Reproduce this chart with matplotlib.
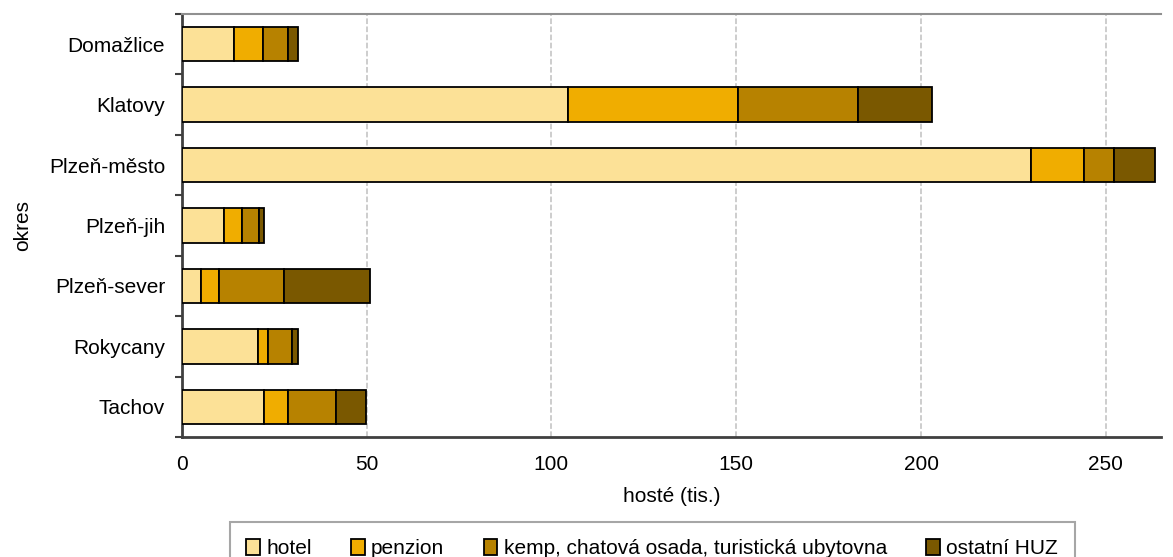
import numpy as np
import matplotlib.pyplot as plt
from matplotlib.ticker import FixedLocator

plt.rcParams['font.family'] = ['Liberation Sans', 'DejaVu Sans']

okresy = ['Domažlice', 'Klatovy', 'Plzeň-město', 'Plzeň-jih', 'Plzeň-sever', 'Rokycany', 'Tachov']
hotel    = [14.1, 104.4, 229.7, 11.4,  5.1, 20.6, 22.2]
penzion  = [ 7.8,  46.0,  14.3,  4.8,  4.9,  2.7,  6.5]
kemp     = [ 6.8,  32.5,   8.2,  4.6, 17.6,  6.5, 13.0]
ostatni  = [ 2.7,  20.0,  11.1,  1.4, 23.3,  1.6,  8.1]

series = [('hotel', hotel, '#FCE197'),
          ('penzion', penzion, '#F0AD00'),
          ('kemp, chatová osada, turistická ubytovna', kemp, '#B78200'),
          ('ostatní HUZ', ostatni, '#7A5800')]

fs = 15

fig = plt.figure(figsize=(11.73, 5.57), dpi=100)
ax = fig.add_axes([0.155, 0.2154, 0.835, 0.7596])

y = np.arange(len(okresy))
left = np.zeros(len(okresy))
for name, vals, col in series:
    ax.barh(y, vals, left=left, height=0.57, color=col, edgecolor='black',
            linewidth=1.3, label=name, zorder=3)
    left += np.array(vals)

ax.set_ylim(len(okresy) - 0.5, -0.5)
ax.set_xlim(0, 265)
ax.set_xticks([0, 50, 100, 150, 200, 250])
ax.set_yticks(y)
ax.set_yticklabels(okresy, fontsize=fs)
ax.yaxis.set_minor_locator(FixedLocator(np.arange(-0.5, len(okresy), 1.0)))
ax.tick_params(axis='y', which='major', length=0, pad=12)
ax.tick_params(axis='y', which='minor', length=5, width=1.5, color='#404040')
ax.tick_params(axis='x', length=0, labelsize=fs, pad=13)

ax.grid(axis='x', linestyle='--', color='#C0C0C0', linewidth=1.1, zorder=0)
ax.spines['right'].set_visible(False)
ax.spines['top'].set_color('#909090')
ax.spines['top'].set_linewidth(1.5)
ax.spines['left'].set_color('#404040')
ax.spines['left'].set_linewidth(2)
ax.spines['bottom'].set_color('#404040')
ax.spines['bottom'].set_linewidth(2)

ax.set_xlabel('hosté (tis.)', fontsize=fs, labelpad=9)
ax.set_ylabel('okres', fontsize=fs, labelpad=12)

leg = fig.legend(loc='upper center', bbox_to_anchor=(0.556, 0.063), ncol=4,
                 fontsize=fs, frameon=True, fancybox=False, edgecolor='#909090',
                 handlelength=0.65, handleheight=0.85, handletextpad=0.3,
                 columnspacing=1.9, borderpad=0.8, borderaxespad=0)
leg.get_frame().set_linewidth(1.5)

fig.savefig('out.png', dpi=100)
